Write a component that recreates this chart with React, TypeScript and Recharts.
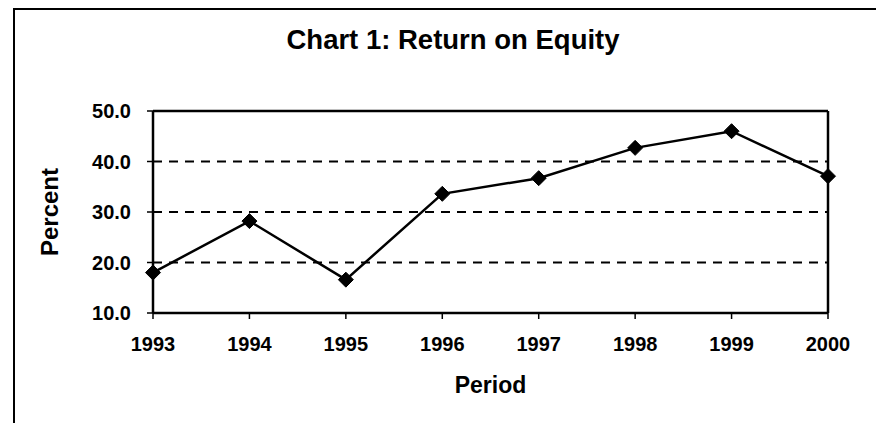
import React from "react";
import { LineChart, Line, XAxis, YAxis, ReferenceLine, Label } from "recharts";

const periods = ["1993", "1994", "1995", "1996", "1997", "1998", "1999", "2000"];
const roe = [18.0, 28.2, 16.6, 33.6, 36.7, 42.7, 46.0, 37.1];
const yTicks = [10, 20, 30, 40, 50];
const gridValues = [20, 30, 40];

const data = periods.map((p, i) => ({ period: p, roe: roe[i] }));

const FONT = "'Liberation Sans', Arial, sans-serif";

const Diamond = (props: any) => {
  const { cx, cy } = props;
  if (cx == null || cy == null) return null;
  const r = 7.5;
  return (
    <path
      d={`M${cx},${cy - r} L${cx + r},${cy} L${cx},${cy + r} L${cx - r},${cy} Z`}
      fill="#000"
      stroke="#000"
      strokeWidth={1}
    />
  );
};

export default function App() {
  return (
    <div style={{ position: "fixed", left: 0, top: 0, width: 876, height: 423, background: "#fff" }}>
      <div
        style={{
          position: "absolute",
          left: 13,
          top: 8,
          width: 876,
          height: 430,
          borderTop: "2px solid #000",
          borderLeft: "2px solid #000",
        }}
      />
      <div
        style={{
          position: "absolute",
          left: 0,
          width: 906,
          top: 24,
          textAlign: "center",
          fontFamily: FONT,
          fontWeight: "bold",
          fontSize: 27.5,
          color: "#000",
        }}
      >
        Chart 1: Return on Equity
      </div>
      <LineChart
        width={876}
        height={423}
        data={data}
        margin={{ top: 111, right: 48, bottom: 30, left: 33 }}
        style={{ position: "absolute", left: 0, top: 0 }}
      >
        {gridValues.map((v) => (
          <ReferenceLine key={v} y={v} stroke="#000" strokeWidth={2} strokeDasharray="9 7" />
        ))}
        <ReferenceLine y={50} stroke="#000" strokeWidth={2.5} />
        <ReferenceLine x="2000" stroke="#000" strokeWidth={2.5} />
        <XAxis
          dataKey="period"
          height={80}
          axisLine={{ stroke: "#000", strokeWidth: 2.5 }}
          tickLine={{ stroke: "#000", strokeWidth: 1.5 }}
          tickSize={6}
          tickMargin={18}
          tick={{ fill: "#000", fontSize: 20, fontWeight: "bold", fontFamily: FONT }}
          interval={0}
        >
          <Label
            value="Period"
            position="center"
            dy={32}
            style={{ fill: "#000", fontSize: 23, fontWeight: "bold", fontFamily: FONT }}
          />
        </XAxis>
        <YAxis
          type="number"
          domain={[10, 50]}
          ticks={yTicks}
          width={120}
          axisLine={{ stroke: "#000", strokeWidth: 2.5 }}
          tickLine={{ stroke: "#000", strokeWidth: 1.5 }}
          tickSize={6}
          tickMargin={16}
          tickFormatter={(v: number) => v.toFixed(1)}
          tick={{ fill: "#000", fontSize: 20, fontWeight: "bold", fontFamily: FONT }}
        >
          <Label
            value="Percent"
            angle={-90}
            position="center"
            dx={-44}
            style={{ fill: "#000", fontSize: 24, fontWeight: "bold", fontFamily: FONT, textAnchor: "middle" }}
          />
        </YAxis>
        <Line
          type="linear"
          dataKey="roe"
          stroke="#000"
          strokeWidth={2.5}
          dot={<Diamond />}
          activeDot={false}
          isAnimationActive={false}
        />
      </LineChart>
    </div>
  );
}
